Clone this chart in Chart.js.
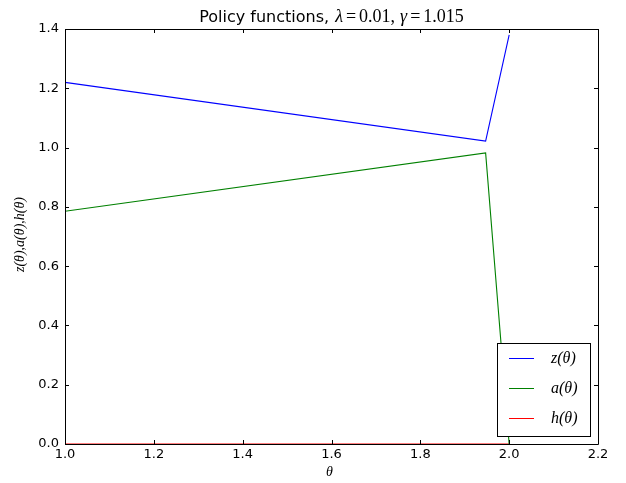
<!DOCTYPE html>
<html>
<head>
<meta charset="utf-8">
<script src="https://cdn.jsdelivr.net/npm/chart.js@4/dist/chart.umd.min.js"></script>
<style>
  html, body { margin: 0; padding: 0; background: #ffffff; }
  canvas { display: block; }
</style>
</head>
<body>
<canvas id="policy" width="626" height="483"></canvas>
<script>
// Policy functions on the theta grid
const theta  = [1.0, 1.947, 2.0];
const zVals  = [1.22, 1.022, 1.38];
const aVals  = [0.785, 0.982, 0.0];
const hVals  = [0.0, 0.0, 0.0];

const xTicks = [1.0, 1.2, 1.4, 1.6, 1.8, 2.0, 2.2];
const yTicks = [0.0, 0.2, 0.4, 0.6, 0.8, 1.0, 1.2, 1.4];

const seriesNames  = ['z', 'a', 'h'];
const seriesColors = ['#0000ff', '#008000', '#ff0000'];

const toPoints = vals => theta.map((t, i) => ({ x: t, y: vals[i] }));

const SANS  = '"DejaVu Sans", sans-serif';
const SERIF = '"Liberation Serif", "DejaVu Serif", serif';

// frame, inward ticks, titles and legend
const decor = {
  id: 'decor',
  afterDatasetsDraw(chart) {
    const ctx = chart.ctx;
    const a = chart.chartArea;
    const xs = chart.scales.x, ys = chart.scales.y;
    ctx.save();
    ctx.strokeStyle = '#000000';
    ctx.lineWidth = 1;
    ctx.beginPath();
    ctx.rect(Math.round(a.left) + 0.5, Math.round(a.top) + 0.5,
             Math.round(a.right - a.left), Math.round(a.bottom - a.top));
    ctx.stroke();
    const tl = 4;
    ctx.beginPath();
    xTicks.forEach(v => {
      const px = Math.round(xs.getPixelForValue(v)) + 0.5;
      ctx.moveTo(px, a.bottom); ctx.lineTo(px, a.bottom - tl);
      ctx.moveTo(px, a.top);    ctx.lineTo(px, a.top + tl);
    });
    yTicks.forEach(v => {
      const py = Math.round(ys.getPixelForValue(v)) + 0.5;
      ctx.moveTo(a.left, py);  ctx.lineTo(a.left + tl, py);
      ctx.moveTo(a.right, py); ctx.lineTo(a.right - tl, py);
    });
    ctx.stroke();
    ctx.restore();
  },
  afterDraw(chart) {
    const ctx = chart.ctx;
    const a = chart.chartArea;
    ctx.save();
    ctx.fillStyle = '#000000';
    ctx.textBaseline = 'alphabetic';

    // title: plain text followed by math parameters
    const parts = [
      { t: 'Policy functions, ', f: '16px ' + SANS, g: 1 },
      { t: 'λ', f: 'italic 18px ' + SERIF, g: 3 },
      { t: '=', f: '18px ' + SERIF, g: 3 },
      { t: '0.01,', f: '18px ' + SERIF, g: 5 },
      { t: 'γ', f: 'italic 18px ' + SERIF, g: 3 },
      { t: '=', f: '18px ' + SERIF, g: 3 },
      { t: '1.015', f: '18px ' + SERIF, g: 0 }
    ];
    let total = 0;
    parts.forEach(p => { ctx.font = p.f; p.w = ctx.measureText(p.t).width; total += p.w + p.g; });
    let x = (a.left + a.right) / 2 - total / 2;
    ctx.textAlign = 'left';
    parts.forEach(p => { ctx.font = p.f; ctx.fillText(p.t, x, 22); x += p.w + p.g; });

    // axis titles
    ctx.textAlign = 'center';
    ctx.font = 'italic 14px ' + SERIF;
    ctx.fillText('θ', (a.left + a.right) / 2 - 2, 476);
    ctx.save();
    ctx.translate(24, (a.top + a.bottom) / 2 - 2);
    ctx.rotate(-Math.PI / 2);
    ctx.font = 'italic 14px ' + SERIF;
    ctx.fillText('z(θ),a(θ),h(θ)', 0, 0);
    ctx.restore();

    // legend box
    const bx = 497.5, by = 343.5, bw = 93, bh = 93;
    ctx.fillStyle = '#ffffff';
    ctx.fillRect(bx, by, bw, bh);
    ctx.strokeStyle = '#000000';
    ctx.lineWidth = 1;
    ctx.strokeRect(bx, by, bw, bh);
    seriesNames.forEach((n, i) => {
      const ry = 358 + i * 30;
      ctx.strokeStyle = seriesColors[i];
      ctx.beginPath();
      ctx.moveTo(509, ry + 0.5); ctx.lineTo(534, ry + 0.5);
      ctx.stroke();
      ctx.fillStyle = '#000000';
      ctx.textAlign = 'left';
      ctx.font = 'italic 16px ' + SERIF;
      ctx.fillText(n + '(θ)', 551, ry + 5);
    });
    ctx.restore();
  }
};

new Chart(document.getElementById('policy'), {
  type: 'line',
  data: {
    datasets: [zVals, aVals, hVals].map((vals, i) => ({
      label: seriesNames[i] + '(θ)',
      data: toPoints(vals),
      borderColor: seriesColors[i],
      borderWidth: 1.1,
      pointRadius: 0,
      fill: false,
      tension: 0
    }))
  },
  options: {
    responsive: false,
    animation: false,
    devicePixelRatio: 1,
    layout: { padding: { top: 29, right: 28, left: 0, bottom: 0 } },
    plugins: { legend: { display: false }, title: { display: false }, tooltip: { enabled: false } },
    scales: {
      x: {
        type: 'linear',
        min: xTicks[0], max: xTicks[xTicks.length - 1],
        grid: { display: false, drawTicks: false },
        border: { display: false },
        afterBuildTicks: s => { s.ticks = xTicks.map(v => ({ value: v })); },
        afterFit: s => { s.height = 39; },
        ticks: {
          autoSkip: false, maxRotation: 0, padding: 3,
          color: '#000000', font: { family: SANS, size: 13 },
          callback: v => Number(v).toFixed(1)
        }
      },
      y: {
        type: 'linear',
        min: yTicks[0], max: yTicks[yTicks.length - 1],
        grid: { display: false, drawTicks: false },
        border: { display: false },
        afterBuildTicks: s => { s.ticks = yTicks.map(v => ({ value: v })); },
        afterFit: s => { s.width = 65; },
        ticks: {
          autoSkip: false, padding: 6,
          color: '#000000', font: { family: SANS, size: 13 },
          callback: v => Number(v).toFixed(1)
        }
      }
    }
  },
  plugins: [decor]
});
</script>
</body>
</html>
